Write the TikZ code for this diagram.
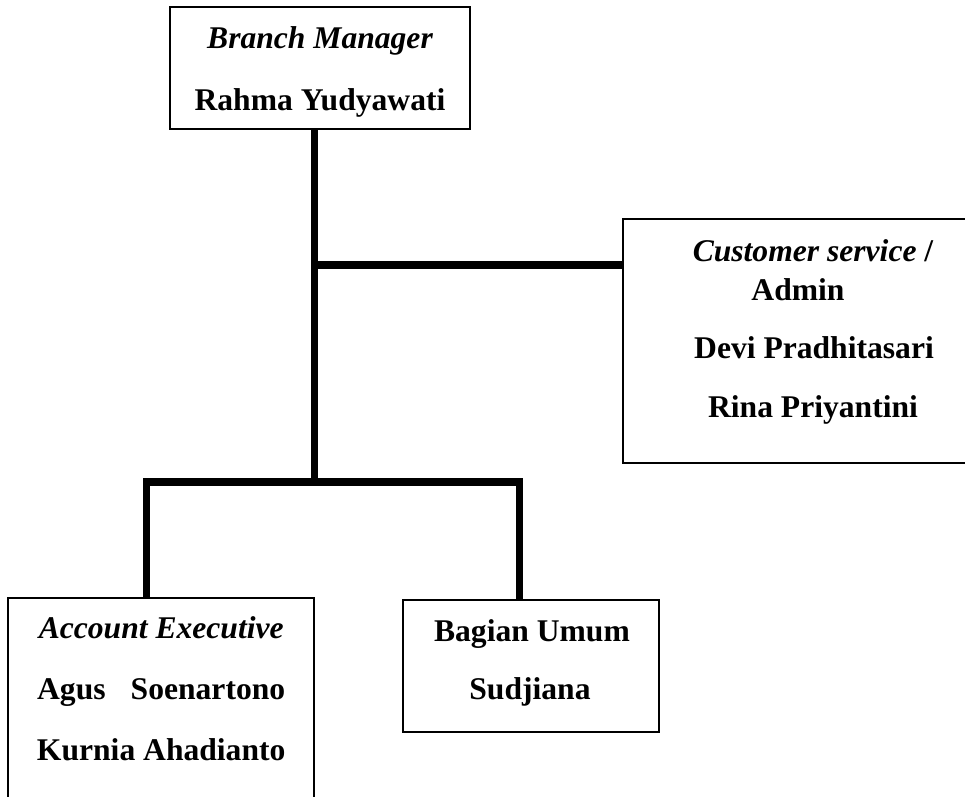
\documentclass[tikz,border=0pt]{standalone}
\usepackage{fontspec}
\setmainfont{Liberation Serif}
\usepackage{tikz}

\tikzset{
  unit/.style={draw,line width=2pt,inner sep=0pt},
  link/.style={line width=7.5pt},
  jobtitle/.style={anchor=base,font=\fontsize{31.6}{38}\selectfont\itshape\bfseries},
  person/.style={anchor=base,font=\fontsize{31.6}{38}\selectfont\bfseries}
}

\begin{document}
\begin{tikzpicture}[x=1pt,y=-1pt]
  \useasboundingbox (0,0) rectangle (965,796);
  \clip (0,0) rectangle (965,796);
  % boxes
  \node[unit,minimum width=300,minimum height=122] (bm) at (320,68.3) {};
  \node[unit,minimum width=380,minimum height=244] (cs) at (813,341) {};
  \node[unit,minimum width=306,minimum height=244] (ae) at (161.2,720) {};
  \node[unit,minimum width=256,minimum height=132] (bu) at (531,666) {};
  % texts
  \node[jobtitle] (bmrole) at (320,48.3) {Branch Manager};
  \node[person] (bmname) at (320,110) {Rahma Yudyawati};
  \node[jobtitle] (csrole) at (813,261.7) {Customer service \textup{/}};
  \node[person] (csadmin) at (798,300) {Admin};
  \node[person] (csname1) at (814,358) {Devi Pradhitasari};
  \node[person] (csname2) at (813,417) {Rina Priyantini};
  \node[jobtitle] (aerole) at (161.2,638) {Account Executive};
  \node[person] (aename1) at (161.2,699) {\makebox[7.85em][s]{Agus Soenartono}};
  \node[person] (aename2) at (161.2,760) {Kurnia Ahadianto};
  \node[person] (burole) at (532,641) {Bagian Umum};
  \node[person] (buname) at (530,699) {Sudjiana};
  % connectors
  \coordinate (split) at (314.5,265);
  \coordinate (fork) at (314.5,478);
  \coordinate (forkl) at (146.5,482);
  \coordinate (forkr) at (519.5,482);
  \draw[link] (bm.south -| fork) -- (fork);
  \draw[link] (split) -- (cs.west |- split);
  \draw[link] (forkl |- ae.north) -- (forkl) -- (forkr) -- (forkr |- bu.north);
\end{tikzpicture}
\end{document}
